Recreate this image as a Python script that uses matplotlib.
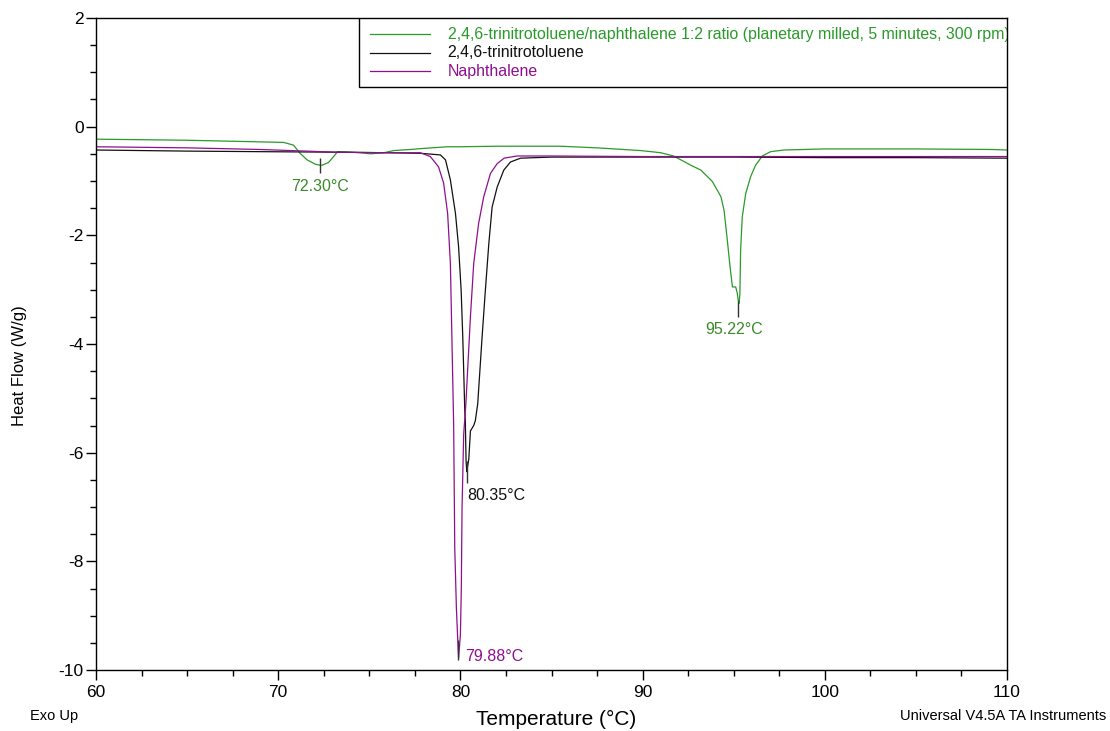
import matplotlib.pyplot as plt
from matplotlib.patches import Rectangle
from matplotlib.ticker import MultipleLocator
from matplotlib import font_manager

# DSC traces, heat flow (W/g) vs temperature (C)
mix_T = [60, 65, 69.0, 70.3, 70.84, 71.2, 71.58, 72.03, 72.3, 72.4, 72.76, 73.04, 73.26,
         74.0, 74.5, 75.05, 75.8, 76.34, 77.25, 78.0, 79.27, 80, 82, 85.5, 87.5, 89.9,
         91.0, 91.7, 92.65, 93.2, 93.83, 94.3, 94.47, 94.65, 94.8, 94.93, 95.11, 95.2,
         95.25, 95.3, 95.34, 95.38, 95.47, 95.66, 95.93, 96.2, 96.57, 97.03, 97.76,
         99.96, 105, 109.2, 110]
mix_HF = [-0.23, -0.25, -0.28, -0.29, -0.34, -0.49, -0.61, -0.69, -0.71, -0.71, -0.66, -0.55, -0.46,
          -0.47, -0.48, -0.50, -0.48, -0.44, -0.42, -0.40, -0.37, -0.37, -0.36, -0.36, -0.39, -0.44,
          -0.48, -0.54, -0.71, -0.80, -1.01, -1.29, -1.54, -2.09, -2.58, -2.95, -2.95, -3.07,
          -3.2, -3.25, -3.07, -2.27, -1.66, -1.23, -0.92, -0.71, -0.54, -0.46, -0.43,
          -0.41, -0.41, -0.42, -0.43]

tnt_T = [60, 65, 69, 73.2, 76, 77.8, 78.9, 79.18, 79.45, 79.73, 79.9, 80.04, 80.13, 80.2,
         80.24, 80.27, 80.31, 80.35, 80.37, 80.46, 80.55, 80.73, 80.82, 80.95, 81.19, 81.37,
         81.56, 81.74, 82.02, 82.38, 82.75, 83.3, 85, 90, 95, 100, 105, 110]
tnt_HF = [-0.43, -0.45, -0.46, -0.47, -0.48, -0.49, -0.52, -0.61, -0.98, -1.6, -2.21, -3.01, -3.87, -4.73,
          -5.23, -5.41, -6.15, -6.35, -6.3, -6.12, -5.6, -5.5, -5.41, -5.1, -3.87, -3.01,
          -2.15, -1.48, -1.11, -0.8, -0.65, -0.58, -0.56, -0.56, -0.56, -0.57, -0.57, -0.58]

nap_T = [60, 65, 69, 73.2, 76, 77.8, 78.35, 78.8, 79.08, 79.3, 79.45, 79.51, 79.58, 79.63,
         79.69, 79.78, 79.85, 79.9, 80.0, 80.05, 80.09, 80.18, 80.3, 80.55, 80.73, 81.0,
         81.28, 81.65, 82.02, 82.4, 83.1, 85, 90, 95, 100, 105, 110]
nap_HF = [-0.37, -0.39, -0.42, -0.47, -0.48, -0.48, -0.55, -0.74, -1.04, -1.6, -2.52, -3.5, -4.67, -5.5,
          -7.75, -8.86, -9.41, -9.78, -9.35, -8.49, -7.01, -5.66, -5.1, -3.5, -2.52, -1.78,
          -1.29, -0.86, -0.68, -0.58, -0.54, -0.54, -0.55, -0.55, -0.55, -0.55, -0.55]

# peak annotations: temperature, tick top/bottom, label text position
peak_T = [72.30, 80.35, 79.88, 95.22]
peak_top = [-0.58, -6.15, -9.45, -3.2]
peak_bot = [-0.86, -6.55, -9.82, -3.5]
peak_lbl_x = [72.30, 80.38, 80.25, 95.0]
peak_lbl_y = [-1.1, -6.78, -9.75, -3.73]
peak_lbl_ha = ['center', 'left', 'left', 'center']

names = ['2,4,6-trinitrotoluene/naphthalene 1:2 ratio (planetary milled, 5 minutes, 300 rpm)',
         '2,4,6-trinitrotoluene',
         'Naphthalene']

GREEN = '#2a9a2a'
GREEN_TXT = '#3a8a2a'
BLACK = '#111111'
PURPLE = '#8e0f8e'
colors = [GREEN, BLACK, PURPLE]
lbl_colors = [GREEN_TXT, BLACK, PURPLE, GREEN_TXT]

avail = {f.name for f in font_manager.fontManager.ttflist}
narrow = 'Liberation Sans Narrow' if 'Liberation Sans Narrow' in avail else 'Liberation Sans'
plt.rcParams['font.family'] = ['Liberation Sans', 'DejaVu Sans']
plt.rcParams['axes.unicode_minus'] = False

fig = plt.figure(figsize=(11.1, 7.31), dpi=100)
ax = fig.add_axes([0.0865, 0.0834, 0.8207, 0.892])

ax.plot(mix_T, mix_HF, color=GREEN, lw=0.9)
ax.plot(tnt_T, tnt_HF, color=BLACK, lw=0.9)
ax.plot(nap_T, nap_HF, color=PURPLE, lw=0.9)

ax.vlines(peak_T, peak_bot, peak_top, colors='#333333', lw=1.0)
for x, y, t, c, ha in zip(peak_lbl_x, peak_lbl_y, ['72.30°C', '80.35°C', '79.88°C', '95.22°C'],
                          lbl_colors, peak_lbl_ha):
    ax.text(x, y, t, color=c, fontsize=11.5, ha=ha, va='center')

ax.set_xlim(60, 110)
ax.set_ylim(-10, 2)
ax.xaxis.set_major_locator(MultipleLocator(10))
ax.xaxis.set_minor_locator(MultipleLocator(2.5))
ax.yaxis.set_major_locator(MultipleLocator(2))
ax.yaxis.set_minor_locator(MultipleLocator(0.5))
ax.tick_params(which='major', length=7, width=1, labelsize=12.5, direction='out')
ax.tick_params(which='minor', length=4, width=1, direction='out')
ax.tick_params(axis='x', pad=4)
ax.tick_params(axis='y', pad=2)
for s in ax.spines.values():
    s.set_linewidth(1.0)

# legend box in the top right corner
ax.add_patch(Rectangle((0.289, 0.894), 0.711, 0.106, transform=ax.transAxes,
                       facecolor='white', edgecolor='black', lw=1.0, zorder=5))
for i, (nm, c) in enumerate(zip(names, colors)):
    yy = 0.975 - i * 0.0285
    ax.plot([0.301, 0.367], [yy, yy], color=c, lw=0.9, transform=ax.transAxes, zorder=6)
    ax.text(0.386, yy, nm, color=c, fontsize=11.4, family=narrow, va='center',
            transform=ax.transAxes, zorder=6, clip_on=True)

fig.text(0.018, 0.5, 'Heat Flow (W/g)', rotation=90, fontsize=12, ha='center', va='center')
fig.text(0.501, 0.016, 'Temperature (°C)', fontsize=15, family=narrow, ha='center', va='center')
fig.text(0.027, 0.0205, 'Exo Up', fontsize=10.5, family=narrow, ha='left', va='center')
fig.text(0.9965, 0.0205, 'Universal V4.5A TA Instruments', fontsize=10.5, family=narrow,
         ha='right', va='center')

fig.savefig('out.png', dpi=100)
